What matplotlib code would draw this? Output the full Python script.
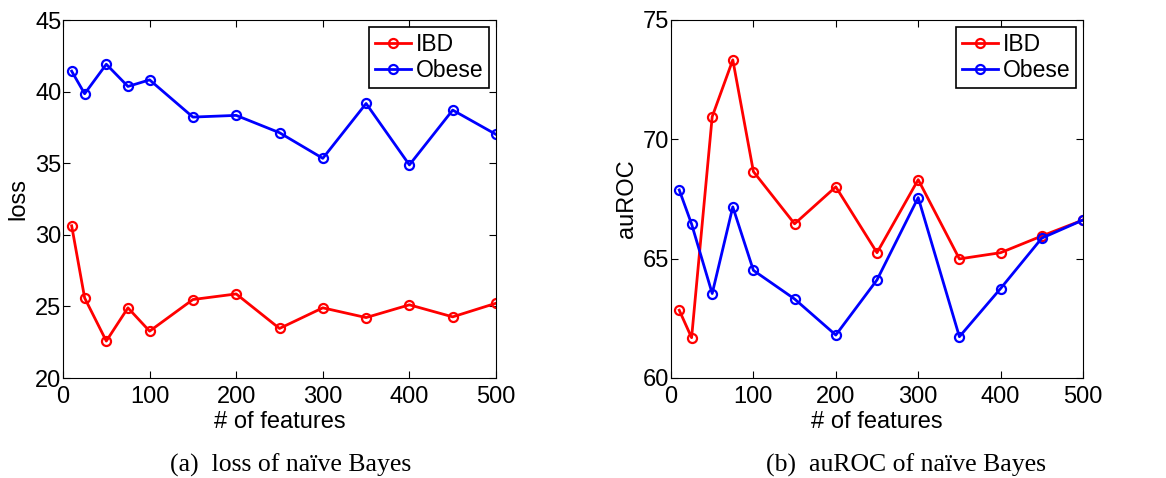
import numpy as np
import matplotlib.pyplot as plt

plt.rcParams['font.family'] = ['Liberation Sans', 'DejaVu Sans']

n_features = [10, 25, 50, 75, 100, 150, 200, 250, 300, 350, 400, 450, 500]

loss_ibd = [30.63, 25.59, 22.58, 24.90, 23.27, 25.48, 25.87, 23.46, 24.90, 24.22, 25.11, 24.27, 25.22]
loss_obese = [41.43, 39.85, 41.91, 40.36, 40.82, 38.22, 38.34, 37.13, 35.34, 39.17, 34.88, 38.71, 37.01]

auroc_ibd = [62.84, 61.69, 70.95, 73.33, 68.65, 66.46, 68.01, 65.25, 68.31, 64.99, 65.25, 65.95, 66.62]
auroc_obese = [67.88, 66.45, 63.54, 67.17, 64.51, 63.31, 61.80, 64.11, 67.56, 61.73, 63.75, 65.86, 66.62]

series_names = ["IBD", "Obese"]
captions = ["(a)  loss of naïve Bayes", "(b)  auROC of naïve Bayes"]


def panel(ax, ibd, obese, ylim, yticks, ylabel):
    for vals, c, name in zip([ibd, obese], ['#ff0000', '#0000ff'], series_names):
        ax.plot(n_features, vals, '-o', color=c, lw=2, ms=6.5, mfc='none',
                mew=1.6, label=name)
    ax.set_xlim(0, 500)
    ax.set_ylim(*ylim)
    ax.set_xticks([0, 100, 200, 300, 400, 500])
    ax.set_yticks(yticks)
    ax.tick_params(direction='in', top=True, right=True, labelsize=17,
                   length=5, width=0.8)
    ax.tick_params(axis='x', pad=6)
    ax.tick_params(axis='y', pad=1)
    ax.set_xlabel("# of features", fontsize=17, labelpad=2)
    ax.set_ylabel(ylabel, fontsize=17, labelpad=4)
    leg = ax.legend(loc='upper right', fontsize=16.5, fancybox=False,
                    edgecolor='black', framealpha=1, handlelength=1.6,
                    handletextpad=0.2, borderpad=0.25, labelspacing=0.15,
                    borderaxespad=0.3)
    leg.get_frame().set_linewidth(1.2)


fig = plt.figure(figsize=(11.66, 4.78), dpi=100)
W, H = 1166, 478
ax1 = fig.add_axes([63 / W, 1 - 378 / H, 433 / W, 358 / H])
ax2 = fig.add_axes([671 / W, 1 - 378 / H, 412 / W, 358 / H])

panel(ax1, loss_ibd, loss_obese, (20, 45), [20, 25, 30, 35, 40, 45], "loss")
panel(ax2, auroc_ibd, auroc_obese, (60, 75), [60, 65, 70, 75], "auROC")

fig.text(170 / W, 1 - 465 / H, captions[0], fontsize=18.5, va='center', ha='left',
         family=['Liberation Serif', 'DejaVu Serif'])
fig.text(766 / W, 1 - 465 / H, captions[1], fontsize=18.5, va='center', ha='left',
         family=['Liberation Serif', 'DejaVu Serif'])

fig.savefig("out.png", dpi=100)
